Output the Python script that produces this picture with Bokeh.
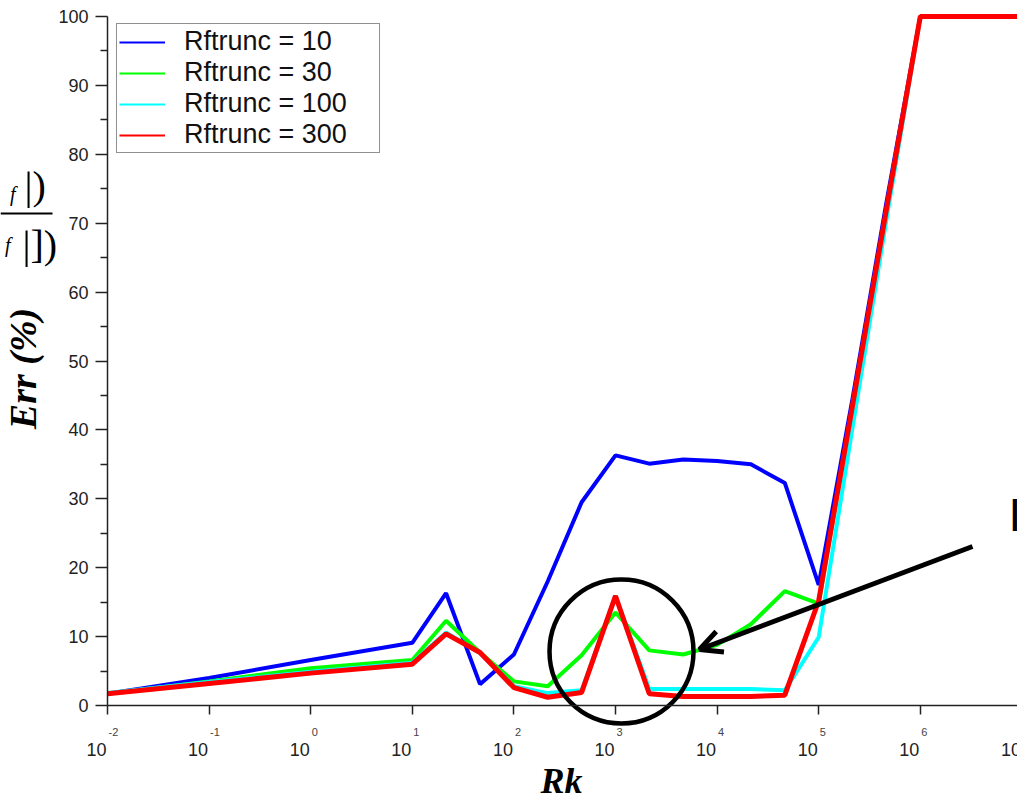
from bokeh.plotting import figure
from bokeh.models import Range1d, FixedTicker, Legend, LegendItem, Arrow, OpenHead
from bokeh.core.properties import value
from bokeh.embed import file_html
from bokeh.resources import INLINE

# ---------------- data ----------------
rk = [0.01, 0.1, 1, 10, 21.5, 46.4, 100, 215, 464, 1000, 2150, 4640, 10000,
      21500, 46400, 100000, 215000, 464000, 1000000, 2150000, 4640000, 10000000]
err_rf10 = [1.7, 4.0, 6.6, 9.1, 16.3, 3.1, 7.4, 18.0, 29.5, 36.3, 35.1, 35.7, 35.5,
            35.0, 32.3, 17.5, 44.5, 73.0, 100, 100, 100, 100]
err_rf30 = [1.7, 3.5, 5.4, 6.6, 12.3, 7.7, 3.5, 2.8, 7.3, 13.5, 8.0, 7.4, 8.8,
            11.8, 16.6, 14.8, 43.5, 72.0, 100, 100, 100, 100]
err_rf100 = [1.8, 3.4, 4.9, 6.2, 10.6, 7.6, 2.8, 1.8, 2.2, 15.9, 2.4, 2.4, 2.4,
             2.4, 2.2, 9.9, 40.3, 70.5, 100, 100, 100, 100]
err_rf300 = [1.7, 3.2, 4.7, 6.0, 10.4, 7.7, 2.6, 1.2, 1.9, 15.9, 1.7, 1.3, 1.3,
             1.3, 1.5, 15.2, 43.5, 72.0, 100, 100, 100, 100]
series_labels = ["Rftrunc = 10", "Rftrunc = 30", "Rftrunc = 100", "Rftrunc = 300"]
x_tick_exponents = [-2, -1, 0, 1, 2, 3, 4, 5, 6, 7]
y_tick_values = [0, 10, 20, 30, 40, 50, 60, 70, 80, 90, 100]
y_minor_values = [5, 15, 25, 35, 45, 55, 65, 75, 85, 95]

# ---------------- geometry / style ----------------
W, H = 1017, 796
X0_PX, DEC_PX = 107.0, 101.6     # px of 10^-2, px per decade
Y0_PX, UNIT_PX = 705.0, 6.89     # px of 0, px per unit
BL_SHIFT = 0.32                  # compensation of the rendered baseline (in em)


def dx(sx):
    return 10 ** (-2 + (sx - X0_PX) / DEC_PX)


def dy(sy):
    return (Y0_PX - sy) / UNIT_PX


def base(px, size):
    return px - BL_SHIFT * size


colors = ["#0000ff", "#00ff00", "#00ffff", "#ff0000"]
widths = [4, 4, 4, 5]
AX = "#222222"

p = figure(width=W, height=H, x_axis_type="log", title=None,
           x_range=Range1d(dx(0), dx(W)), y_range=Range1d(dy(H), dy(0)),
           output_backend="svg", toolbar_location=None, min_border=0)
p.outline_line_color = None
p.background_fill_color = "white"
p.border_fill_color = "white"
p.xgrid.visible = False
p.ygrid.visible = False

# axes placed at data locations
xa = p.xaxis[0]
xa.fixed_location = 0
xa.bounds = (0.01, 1e8)
xa.ticker = FixedTicker(ticks=[10.0 ** e for e in x_tick_exponents], minor_ticks=[])
xa.major_tick_out = 9
xa.major_tick_in = 0
xa.minor_tick_out = 0
xa.minor_tick_in = 0
xa.axis_line_color = AX
xa.axis_line_width = 1.5
xa.major_tick_line_color = AX
xa.major_tick_line_width = 1.5
xa.major_label_text_color = None

ya = p.yaxis[0]
ya.fixed_location = 0.01
ya.bounds = (0, 100)
ya.ticker = FixedTicker(ticks=y_tick_values, minor_ticks=y_minor_values)
ya.major_tick_out = 12
ya.major_tick_in = 0
ya.minor_tick_out = 7
ya.minor_tick_in = 0
ya.axis_line_color = AX
ya.axis_line_width = 1.5
ya.major_tick_line_color = AX
ya.major_tick_line_width = 1.5
ya.minor_tick_line_color = AX
ya.minor_tick_line_width = 1.5
ya.major_label_standoff = 7
ya.major_label_text_font = "Liberation Sans"
ya.major_label_text_font_size = "18px"
ya.major_label_text_color = AX

# x tick labels: "10" with exponent
p.text(x=[10.0 ** e for e in x_tick_exponents],
       y=[dy(base(755, 18))] * len(x_tick_exponents),
       text=["10"] * len(x_tick_exponents), text_font=value("Liberation Sans"),
       text_font_size="18px", text_color=AX, text_align="right",
       text_baseline="alphabetic", x_offset=-1)
shown_exp = [e for e in x_tick_exponents if e <= 6]
p.text(x=[10.0 ** e for e in shown_exp], y=[dy(base(735, 11))] * len(shown_exp),
       text=[str(e) for e in shown_exp], text_font=value("Liberation Sans"),
       text_font_size="11px", text_color="#444444", text_align="left",
       text_baseline="alphabetic", x_offset=1)

# data lines: thin copies (used for the legend samples) under the thick ones
series = [err_rf10, err_rf30, err_rf100, err_rf300]
thin = [p.line(rk, vals, line_color=c, line_width=2) for vals, c in zip(series, colors)]
for vals, c, w in zip(series, colors, widths):
    p.line(rk, vals, line_color=c, line_width=w)

items = [LegendItem(label=lab, renderers=[r]) for lab, r in zip(series_labels, thin)]
legend = Legend(items=items, location=(116, H - 153), margin=0, padding=2, spacing=0,
                glyph_width=46, glyph_height=24, label_standoff=19, label_width=193,
                label_text_font="Liberation Sans", label_text_font_size="27px",
                label_text_color="#111111", border_line_color=AX,
                border_line_width=1.5, background_fill_color="white",
                background_fill_alpha=1.0)
p.add_layout(legend)

# axis titles
p.text(x=[dx(561)], y=[dy(base(792, 36))], text=["Rk"],
       text_font=value("Liberation Serif"), text_font_style="bold italic",
       text_font_size="36px", text_color="black", text_align="center",
       text_baseline="alphabetic")
p.text(x=[dx(base(35, 38))], y=[dy(368)], text=["Err (%)"],
       text_font=value("Liberation Serif"), text_font_style="bold italic",
       text_font_size="38px", text_color="black", text_align="center",
       text_baseline="alphabetic", angle=1.5708)

# cut-off fraction at the left edge
p.segment(x0=[dx(0)], y0=[dy(213)], x1=[dx(52)], y1=[dy(213)], line_color="black",
          line_width=2)
p.text(x=[dx(15), dx(10)], y=[dy(base(200, 20)), dy(base(251, 20))], text=["f", "f"],
       text_font=value("Liberation Serif"), text_font_style="italic",
       text_font_size="20px", text_color="black", text_align="right",
       text_baseline="alphabetic")
p.text(x=[dx(24), dx(22)], y=[dy(base(198, 40)), dy(base(257, 40))],
       text=["|)", "|])"], text_font=value("Liberation Serif"),
       text_font_size="40px", text_color="black", text_align="left",
       text_baseline="alphabetic")

# highlight circle + arrow + cut-off letter
p.circle(x=[dx(621)], y=[dy(651)], radius=72, radius_units="screen",
         fill_color=None, line_color="black", line_width=4.5)
p.add_layout(Arrow(x_start=dx(972), y_start=dy(546), x_end=dx(699), y_end=dy(649),
                   line_color="black", line_width=5,
                   end=OpenHead(size=22, line_width=5, line_color="black")))
p.text(x=[dx(1008)], y=[dy(base(529, 46))], text=["I"],
       text_font=value("Liberation Sans"), text_font_size="46px",
       text_color="black", text_align="left", text_baseline="alphabetic")

open("out.html", "w").write(file_html(p, INLINE))
